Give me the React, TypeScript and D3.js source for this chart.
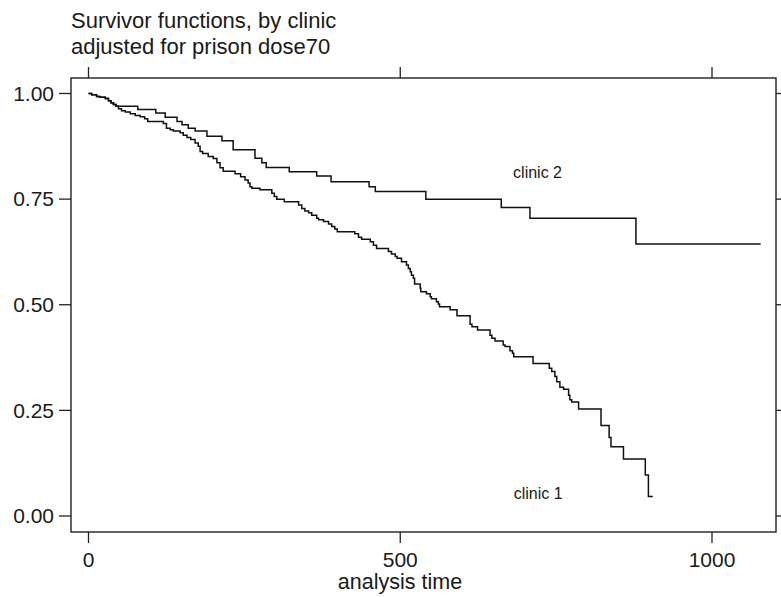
import React from "react";
import * as d3 from "d3";

// ---- data ----
const titleLines = ["Survivor functions, by clinic", "adjusted for prison dose70"];
const xTicks = [0, 500, 1000];
const yTicks = [0, 0.25, 0.5, 0.75, 1];
const xLabel = "analysis time";

// shared early portion of both curves
const commonTimes = [0, 5, 13, 18, 27, 32, 36, 40, 44];
const commonSurv = [1, 0.997, 0.993, 0.991, 0.988, 0.983, 0.978, 0.974, 0.97];

const clinic1Times = [48, 53, 59, 67, 75, 83, 90, 95, 120, 125, 131, 136, 147, 152, 158, 164, 171, 176, 179, 183, 192, 200, 206, 211, 216, 235, 244, 251, 256, 259, 262, 275, 294, 298, 302, 314, 337, 342, 347, 353, 358, 366, 369, 377, 385, 390, 395, 399, 427, 433, 438, 452, 457, 462, 481, 486, 492, 495, 502, 510, 513, 516, 518, 521, 523, 532, 533, 542, 548, 550, 558, 561, 563, 580, 591, 612, 615, 624, 644, 647, 652, 665, 668, 676, 680, 682, 713, 739, 743, 748, 751, 756, 762, 770, 772, 775, 786, 822, 835, 838, 858, 893, 898];
const clinic1Surv = [0.964, 0.959, 0.956, 0.952, 0.948, 0.945, 0.94, 0.934, 0.929, 0.918, 0.914, 0.911, 0.907, 0.901, 0.896, 0.891, 0.883, 0.875, 0.863, 0.858, 0.851, 0.846, 0.836, 0.824, 0.816, 0.81, 0.803, 0.795, 0.788, 0.779, 0.776, 0.772, 0.764, 0.756, 0.75, 0.744, 0.736, 0.728, 0.722, 0.718, 0.712, 0.705, 0.701, 0.697, 0.691, 0.685, 0.679, 0.673, 0.668, 0.66, 0.655, 0.649, 0.641, 0.633, 0.626, 0.62, 0.614, 0.61, 0.602, 0.594, 0.586, 0.578, 0.57, 0.563, 0.549, 0.539, 0.531, 0.526, 0.519, 0.514, 0.507, 0.502, 0.495, 0.488, 0.474, 0.454, 0.448, 0.44, 0.428, 0.421, 0.414, 0.405, 0.401, 0.391, 0.385, 0.377, 0.361, 0.35, 0.342, 0.33, 0.318, 0.305, 0.3, 0.286, 0.275, 0.27, 0.253, 0.214, 0.186, 0.164, 0.135, 0.097, 0.046];
const clinic1End = 905;

const clinic2Times = [79, 108, 123, 142, 150, 160, 171, 190, 214, 232, 267, 278, 285, 322, 366, 389, 450, 460, 541, 662, 708, 878];
const clinic2Surv = [0.962, 0.954, 0.944, 0.934, 0.926, 0.918, 0.911, 0.899, 0.888, 0.867, 0.847, 0.836, 0.825, 0.815, 0.805, 0.791, 0.779, 0.768, 0.75, 0.73, 0.705, 0.644];
const clinic2End = 1078;

const seriesLabels = [
  { text: "clinic 2", t: 681, s: 0.801 },
  { text: "clinic 1", t: 682, s: 0.04 },
];

// ---- layout ----
const W = 781;
const H = 597;
const frame = { left: 71, right: 776, top: 78, bottom: 532 };
const FONT = "'Liberation Sans', Arial, Helvetica, sans-serif";

const x = d3.scaleLinear().domain([0, 1000]).range([88.5, 712]);
const y = d3.scaleLinear().domain([0, 1]).range([516, 93.5]);

function buildSeries(times: number[], surv: number[], end: number): [number, number][] {
  const pts: [number, number][] = [];
  commonTimes.forEach((t, i) => pts.push([t, commonSurv[i]]));
  times.forEach((t, i) => pts.push([t, surv[i]]));
  pts.push([end, surv[surv.length - 1]]);
  return pts;
}

const line = d3
  .line<[number, number]>()
  .x((d) => x(d[0]))
  .y((d) => y(d[1]))
  .curve(d3.curveStepAfter);

export default function App() {
  const s1 = buildSeries(clinic1Times, clinic1Surv, clinic1End);
  const s2 = buildSeries(clinic2Times, clinic2Surv, clinic2End);
  const fmt = d3.format(".2f");
  const axisColor = "#222";
  return (
    <svg
      width={W}
      height={H}
      style={{ position: "absolute", left: 0, top: 0, background: "#fff" }}
      fontFamily={FONT}
    >
      <rect x={0} y={0} width={W} height={H} fill="#fff" />
      {/* title */}
      {titleLines.map((t, i) => (
        <text key={t} x={71} y={28 + i * 25.5} fontSize={22} fill="#1a1a1a">
          {t}
        </text>
      ))}
      {/* frame */}
      <rect
        x={frame.left}
        y={frame.top}
        width={frame.right - frame.left}
        height={frame.bottom - frame.top}
        fill="none"
        stroke={axisColor}
        strokeWidth={1.4}
      />
      {/* x ticks bottom & top */}
      {xTicks.map((t) => (
        <g key={"x" + t}>
          <line x1={x(t)} x2={x(t)} y1={frame.bottom} y2={frame.bottom + 11} stroke={axisColor} strokeWidth={1.3} />
          <line x1={x(t)} x2={x(t)} y1={frame.top} y2={frame.top - 11} stroke={axisColor} strokeWidth={1.3} />
          <text x={x(t)} y={567} textAnchor="middle" fontSize={21} fill="#1a1a1a">
            {t}
          </text>
        </g>
      ))}
      <text x={400} y={589} textAnchor="middle" fontSize={21.5} fill="#1a1a1a">
        {xLabel}
      </text>
      {/* y ticks left & right */}
      {yTicks.map((t) => (
        <g key={"y" + t}>
          <line x1={frame.left - 12} x2={frame.left} y1={y(t)} y2={y(t)} stroke={axisColor} strokeWidth={1.3} />
          <line x1={frame.right} x2={frame.right + 8} y1={y(t)} y2={y(t)} stroke={axisColor} strokeWidth={1.3} />
          <text x={54} y={y(t) + 7.3} textAnchor="end" fontSize={21} fill="#1a1a1a">
            {fmt(t)}
          </text>
        </g>
      ))}
      {/* curves */}
      <path d={line(s2) || ""} fill="none" stroke="#111" strokeWidth={1.5} />
      <path d={line(s1) || ""} fill="none" stroke="#111" strokeWidth={1.5} />
      {/* series labels */}
      {seriesLabels.map((l) => (
        <text key={l.text} x={x(l.t)} y={y(l.s)} fontSize={16} fill="#1a1a1a">
          {l.text}
        </text>
      ))}
    </svg>
  );
}
